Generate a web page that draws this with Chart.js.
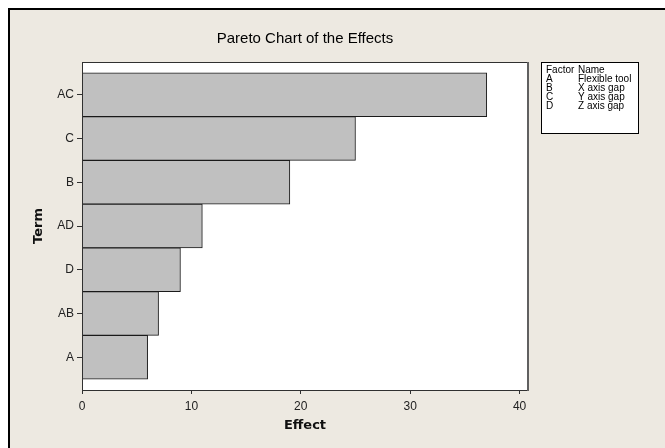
<!DOCTYPE html>
<html><head><meta charset="utf-8">
<script src="https://cdn.jsdelivr.net/npm/chart.js@4/dist/chart.umd.min.js"></script>
<style>html,body{margin:0;padding:0;background:#fff;}canvas{display:block;}</style>
</head><body>
<canvas id="c" width="665" height="448"></canvas>
<script>
const chartTitle = 'Pareto Chart of the Effects';
const terms = ['AC', 'C', 'B', 'AD', 'D', 'AB', 'A'];
const effects = [37, 25, 19, 11, 9, 7, 6];
const xTickValues = [0, 10, 20, 30, 40];
const legendHeader = ['Factor', 'Name'];
const legendFactors = ['A', 'B', 'C', 'D'];
const legendNames = ['Flexible tool', 'X axis gap', 'Y axis gap', 'Z axis gap'];

const BG = '#EDE9E1';

const framePlugin = {
  id: 'frame',
  beforeDraw(chart) {
    const {ctx, width, height, chartArea: a} = chart;
    ctx.save();
    ctx.fillStyle = '#ffffff';
    ctx.fillRect(0, 0, width, height);
    ctx.fillStyle = '#000000';
    ctx.fillRect(8, 8, width - 8, height - 8);
    ctx.fillStyle = BG;
    ctx.fillRect(10, 10, width - 10, height - 10);
    ctx.fillStyle = '#ffffff';
    ctx.fillRect(a.left, a.top, a.right - a.left, a.bottom - a.top);
    ctx.restore();
  },
  afterDatasetsDraw(chart) {
    const {ctx, chartArea: a} = chart;
    ctx.save();
    ctx.strokeStyle = '#303030';
    ctx.lineWidth = 1;
    ctx.strokeRect(a.left + 0.5, a.top + 0.5, a.right - a.left - 1, a.bottom - a.top);
    ctx.strokeStyle = '#606060';
    ctx.lineWidth = 2;
    ctx.beginPath();
    ctx.moveTo(a.right, a.top);
    ctx.lineTo(a.right, a.bottom + 1);
    ctx.stroke();
    ctx.restore();
  },
  afterDraw(chart) {
    const {ctx} = chart;
    const bx = 541, by = 62, bw = 97, bh = 71;
    ctx.save();
    ctx.fillStyle = '#ffffff';
    ctx.fillRect(bx, by, bw, bh);
    ctx.strokeStyle = '#000000';
    ctx.lineWidth = 1;
    ctx.strokeRect(bx + 0.5, by + 0.5, bw, bh);
    ctx.fillStyle = '#000000';
    ctx.font = '10px "Liberation Sans", Arial, sans-serif';
    ctx.textBaseline = 'middle';
    ctx.textAlign = 'left';
    const c1 = bx + 5, c2 = bx + 37;
    const rowH = 9, y0 = by + 8;
    ctx.fillText(legendHeader[0], c1, y0);
    ctx.fillText(legendHeader[1], c2, y0);
    legendFactors.forEach((f, i) => {
      ctx.fillText(f, c1, y0 + (i + 1) * rowH);
      ctx.fillText(legendNames[i], c2, y0 + (i + 1) * rowH);
    });
    ctx.restore();
  }
};

new Chart(document.getElementById('c'), {
  type: 'bar',
  data: {
    datasets: [{
      data: effects.map((v, i) => ({x: v, y: i})),
      backgroundColor: '#C0C0C0',
      borderColor: '#1a1a1a',
      borderWidth: 1,
      barPercentage: 1,
      categoryPercentage: 1
    }]
  },
  options: {
    indexAxis: 'y',
    responsive: false,
    animation: false,
    devicePixelRatio: 1,
    layout: {padding: {left: 0, top: 0, right: 137, bottom: 0}},
    plugins: {
      legend: {display: false},
      tooltip: {enabled: false},
      title: {
        display: true,
        text: chartTitle,
        fullSize: false,
        color: '#000',
        font: {family: '"Liberation Sans", Arial, sans-serif', size: 15, weight: 'normal'},
        padding: {top: 30, bottom: 14}
      }
    },
    scales: {
      x: {
        type: 'linear',
        position: 'bottom',
        min: 0,
        max: 40.77,
        afterBuildTicks: s => { s.ticks = xTickValues.map(v => ({value: v})); },
        ticks: {
          color: '#222',
          font: {family: '"Liberation Sans", Arial, sans-serif', size: 12},
          padding: 5,
          maxRotation: 0
        },
        grid: {drawOnChartArea: false, drawTicks: true, tickLength: 4, tickColor: '#303030', tickWidth: 1},
        border: {display: false},
        title: {
          display: true,
          text: 'Effect',
          color: '#111',
          font: {family: '"DejaVu Sans", sans-serif', size: 13, weight: 'bold'},
          padding: {top: 0, bottom: 15}
        },
        afterFit: s => { s.height = 58; }
      },
      y: {
        type: 'linear',
        reverse: true,
        offset: false,
        min: -0.75,
        max: 6.75,
        afterBuildTicks: s => { s.ticks = terms.map((_, i) => ({value: i})); },
        ticks: {
          color: '#222',
          font: {family: '"Liberation Sans", Arial, sans-serif', size: 12},
          padding: 3,
          callback: v => terms[v]
        },
        grid: {offset: false, drawOnChartArea: false, drawTicks: true, tickLength: 5, tickColor: '#303030', tickWidth: 1},
        border: {display: false},
        title: {
          display: true,
          text: 'Term',
          color: '#111',
          font: {family: '"DejaVu Sans", sans-serif', size: 13, weight: 'bold'},
          padding: {top: 31, bottom: 0}
        },
        afterFit: s => { s.width = 82; }
      }
    }
  },
  plugins: [framePlugin]
});
</script>
</body></html>
